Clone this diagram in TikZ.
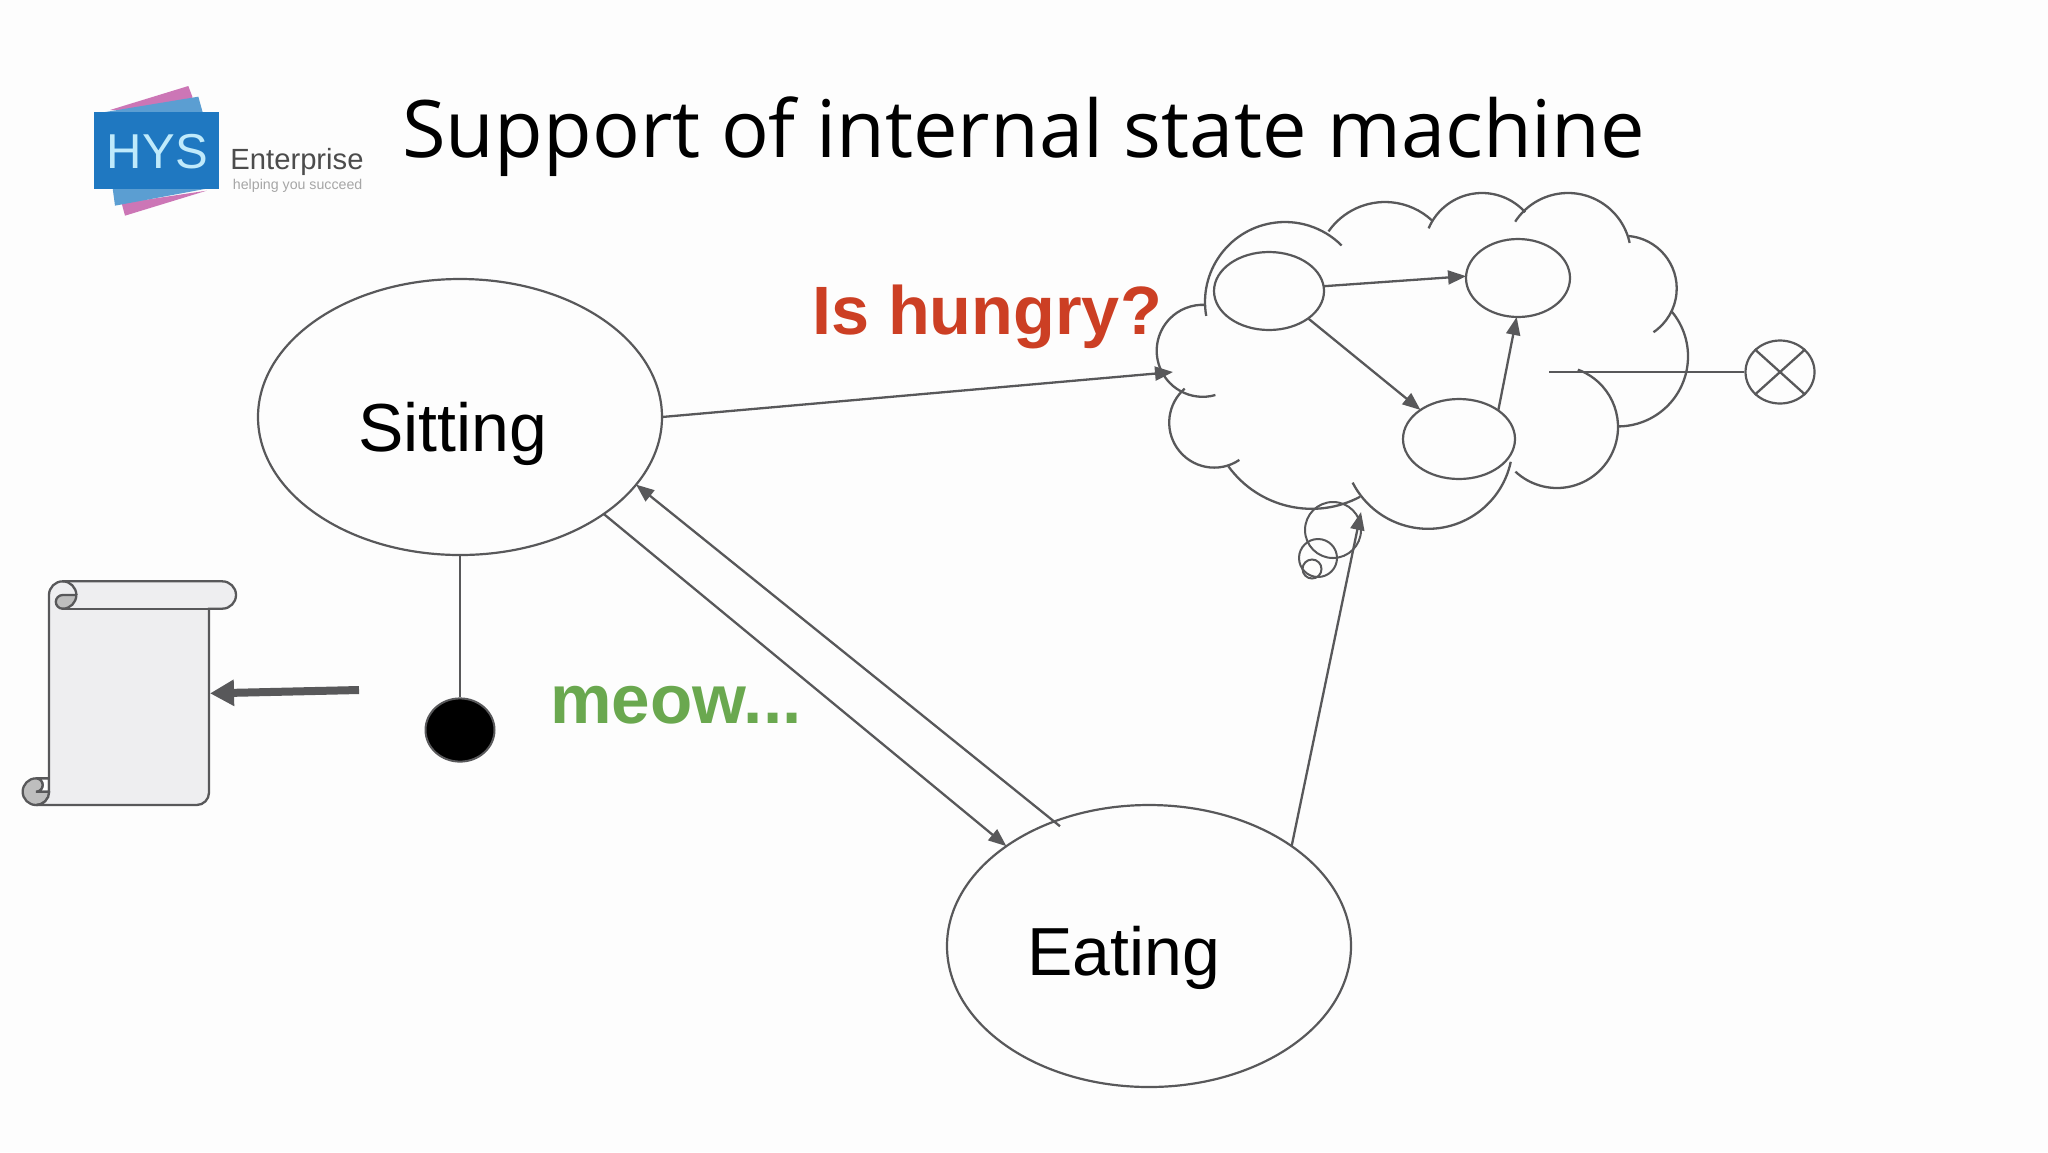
\documentclass[tikz,border=0pt]{standalone}
\usepackage{fontspec}
\setmainfont{Liberation Sans}
\newfontfamily\titlefont{Open Sans}
\usetikzlibrary{shapes.geometric,arrows.meta}
\definecolor{ink}{HTML}{58585A}
\definecolor{hungry}{HTML}{CC3F24}
\definecolor{meow}{HTML}{6AA84F}
\definecolor{paper}{HTML}{EEEEF0}
\definecolor{curl}{HTML}{BEBEBE}
\definecolor{logoblue}{HTML}{1F78C1}
\definecolor{logomid}{HTML}{5B9ED2}
\definecolor{logopink}{HTML}{CC76B6}
\tikzset{
  line/.style={draw=ink,line width=1.15pt},
  conn/.style={line,-{Triangle[length=9pt,width=7pt]}},
  state/.style={ellipse,draw=ink,line width=1.1pt,inner sep=0pt,outer sep=0pt},
  big/.style={font=\fontsize{34pt}{36pt}\selectfont,text=black,inner sep=0pt},
  remark/.style={font=\fontsize{34.2pt}{36pt}\selectfont\bfseries,inner sep=0pt},
}
% one lobe of the cloud: centre x, centre y, start angle, end angle, radius
\newcommand{\lobe}[5]{\draw[line] (#1,#2) ++(#3:#5) arc(#3:#4:#5);}
\begin{document}
\begin{tikzpicture}[x=0.5pt,y=-0.5pt]
\useasboundingbox (0,0) rectangle (2048,1152);
\fill[white!99!ink] (0,0) rectangle (2048,1152);

% logo
\begin{scope}[shift={(60,60)},x=0.16667pt,y=-0.16667pt]
  \fill[logopink] (150,150) -- (385,78) -- (397,110) -- (397,157) -- cycle;
  \fill[logopink] (185,430) -- (440,392) -- (195,467) -- cycle;
  \fill[logomid] (130,157) -- (415,110) -- (428,157) -- cycle;
  \fill[logomid] (158,385) -- (445,385) -- (165,437) -- cycle;
  \fill[logoblue] (103,157) rectangle (476,388);
  \node[font=\fontsize{24.5pt}{26pt}\selectfont,text=cyan!25!white,inner sep=0pt] (hys) at (292,275) {HYS};
  \node[font=\fontsize{14.6pt}{16pt}\selectfont,text=black!70,inner sep=0pt] (ent) at (711,305) {Enterprise};
  \node[font=\fontsize{7.1pt}{8pt}\selectfont,text=black!35,inner sep=0pt] (help) at (713,376) {helping you succeed};
\end{scope}

% title
\node[anchor=base west,inner sep=0pt,font=\titlefont\fontsize{39.7pt}{42pt}\selectfont] (title) at (402,157) {Support of internal state machine};

% main states
\node[state,minimum width=202pt,minimum height=138pt] (sit) at (460,417) {};
\node[state,minimum width=202pt,minimum height=141pt] (eat) at (1149,946) {};
\node[big] (sitl) at (453,434) {Sitting};
\node[big] (eatl) at (1124,958) {Eating};
\node[remark,text=hungry] (hl) at (987,317) {Is hungry?};
\node[remark,text=meow,font=\fontsize{34.6pt}{36pt}\selectfont\bfseries] (ml) at (676,705) {meow...};

% cloud
\lobe{1285}{302}{170}{315}{80}
\lobe{1385}{271}{215}{313}{69}
\lobe{1482}{251}{203}{318}{58}
\lobe{1568}{256}{213}{348}{63}
\lobe{1624}{288.5}{275}{416}{52.7}
\lobe{1618}{356.4}{320}{450}{70}
\lobe{1557}{427}{290}{493}{61}
\lobe{1428}{444.2}{12}{153}{84.6}
\lobe{1311.7}{405.8}{62}{144}{103}
\lobe{1214.2}{422.6}{56}{229}{45}
\lobe{1202.7}{350.8}{74}{273}{46}

% thought bubbles
\node[circle,draw=ink,line width=1pt,inner sep=0pt,minimum size=28pt] (b1) at (1333,530) {};
\node[circle,draw=ink,line width=1pt,inner sep=0pt,minimum size=19pt] (b2) at (1318,558) {};
\node[circle,draw=ink,line width=1pt,inner sep=0pt,minimum size=9.5pt] (b3) at (1312,569) {};

% inner states
\node[state,minimum width=55pt,minimum height=39pt] (s1) at (1269,291) {};
\node[state,minimum width=52pt,minimum height=39pt] (s2) at (1518,278) {};
\node[state,minimum width=56pt,minimum height=40pt] (s3) at (1459,439) {};
\draw[conn] (s1.5) -- (s2.178);
\draw[conn] (s1.-35) -- (s3.143);
\draw[conn] (s3.36) -- (s2.-92);

% end state
\coordinate (inner) at (1549,372);
\node[ellipse,draw=ink,line width=1.1pt,inner sep=0pt,minimum width=34.5pt,minimum height=31.5pt] (x) at (1780,372) {};
\draw[line] (x.42) -- (x.222);
\draw[line] (x.138) -- (x.318);
\draw[line] (inner) -- (x.west);

% connectors
\coordinate (cloudIn) at (1173,372);
\coordinate (bubbleIn) at (1361,512);
\draw[conn] (sit.0) -- (cloudIn);
\draw[conn] (eat.35) -- (bubbleIn);
\draw[conn] ([shift={(5,5)}]eat.127) -- (sit.-21);
\draw[conn] (sit.-34.4) -- (eat.145.3);

% start dot
\node[ellipse,draw=ink,fill=black,line width=1pt,inner sep=0pt,minimum width=34.5pt,minimum height=31.6pt] (dot) at (460,730) {};
\draw[line] (sit.south) -- (dot.north);

% scroll
\begin{scope}[shift={(0,560)},x=0.16667pt,y=-0.16667pt]
  \draw[line,fill=white] (108,655) -- (147,655) -- (147,695) -- (108,695) arc(90:-90:20) -- cycle;
  \draw[line,fill=curl] (148,695) arc(0:90:40) arc(90:270:40) arc(270:450:20) -- cycle;
  \draw[line,fill=paper] (147,695) -- (147,105) arc(180:270:41) -- (667,64) arc(270:450:41) -- (627,146) -- (627,698) arc(0:90:37) -- (108,735) arc(90:0:39.5) -- cycle;
  \draw[line] (627,146) -- (188,146);
  \draw[line] (188,64) arc(270:360:41);
  \draw[line,fill=curl] (188,146) arc(90:0:41) -- (188,105) arc(270:90:20.5) -- cycle;
  \coordinate (scrollEdge) at (630,400);
  \coordinate (scrollTail) at (1077,390);
\end{scope}
\draw[draw=ink,line width=4pt,-{Triangle[length=12pt,width=12.5pt]}] (scrollTail) -- (scrollEdge);
\end{tikzpicture}
\end{document}
